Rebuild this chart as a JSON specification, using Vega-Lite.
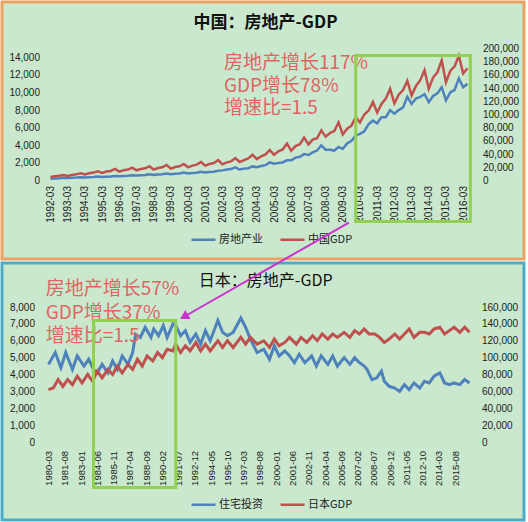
{
  "$schema": "https://vega.github.io/schema/vega-lite/v6.json",
  "padding": 0,
  "background": "white",
  "spacing": 4,
  "bounds": "flush",
  "resolve": {"scale": {"color": "independent"}, "legend": {"color": "independent"}},
  "config": {
    "axis": {"labelFont": "Liberation Sans", "labelFontSize": 10, "labelColor": "#222", "ticks": false, "domain": false, "grid": false, "labelOverlap": false, "labelFlush": false}
  },
  "datasets": {
    "cn": [
      {"d": "1992-03", "re": 200, "gdp": 5300}, {"d": "1992-06", "re": 230, "gdp": 6500}, {"d": "1992-09", "re": 250, "gdp": 7100}, {"d": "1992-12", "re": 300, "gdp": 8300},
      {"d": "1993-03", "re": 280, "gdp": 6900}, {"d": "1993-06", "re": 310, "gdp": 8500}, {"d": "1993-09", "re": 330, "gdp": 9300}, {"d": "1993-12", "re": 380, "gdp": 10900},
      {"d": "1994-03", "re": 330, "gdp": 9000}, {"d": "1994-06", "re": 370, "gdp": 11000}, {"d": "1994-09", "re": 390, "gdp": 12000}, {"d": "1994-12", "re": 450, "gdp": 14000},
      {"d": "1995-03", "re": 400, "gdp": 11500}, {"d": "1995-06", "re": 440, "gdp": 13500}, {"d": "1995-09", "re": 460, "gdp": 14500}, {"d": "1995-12", "re": 520, "gdp": 17500},
      {"d": "1996-03", "re": 470, "gdp": 13500}, {"d": "1996-06", "re": 510, "gdp": 15500}, {"d": "1996-09", "re": 530, "gdp": 16500}, {"d": "1996-12", "re": 600, "gdp": 19500},
      {"d": "1997-03", "re": 560, "gdp": 15500}, {"d": "1997-06", "re": 600, "gdp": 17500}, {"d": "1997-09", "re": 620, "gdp": 18500}, {"d": "1997-12", "re": 700, "gdp": 21500},
      {"d": "1998-03", "re": 640, "gdp": 16500}, {"d": "1998-06", "re": 690, "gdp": 19000}, {"d": "1998-09", "re": 710, "gdp": 20000}, {"d": "1998-12", "re": 800, "gdp": 23500},
      {"d": "1999-03", "re": 720, "gdp": 18000}, {"d": "1999-06", "re": 770, "gdp": 20500}, {"d": "1999-09", "re": 790, "gdp": 21500}, {"d": "1999-12", "re": 900, "gdp": 25000},
      {"d": "2000-03", "re": 800, "gdp": 20000}, {"d": "2000-06", "re": 860, "gdp": 22500}, {"d": "2000-09", "re": 880, "gdp": 24000}, {"d": "2000-12", "re": 1000, "gdp": 28000},
      {"d": "2001-03", "re": 900, "gdp": 22500}, {"d": "2001-06", "re": 960, "gdp": 25000}, {"d": "2001-09", "re": 990, "gdp": 26500}, {"d": "2001-12", "re": 1120, "gdp": 31000},
      {"d": "2002-03", "re": 1150, "gdp": 24500}, {"d": "2002-06", "re": 1250, "gdp": 27500}, {"d": "2002-09", "re": 1300, "gdp": 29000}, {"d": "2002-12", "re": 1500, "gdp": 34000},
      {"d": "2003-03", "re": 1250, "gdp": 28000}, {"d": "2003-06", "re": 1350, "gdp": 31000}, {"d": "2003-09", "re": 1400, "gdp": 33500}, {"d": "2003-12", "re": 1600, "gdp": 39000},
      {"d": "2004-03", "re": 1500, "gdp": 32500}, {"d": "2004-06", "re": 1650, "gdp": 36500}, {"d": "2004-09", "re": 1750, "gdp": 39500}, {"d": "2004-12", "re": 2050, "gdp": 46000},
      {"d": "2005-03", "re": 1900, "gdp": 39100}, {"d": "2005-06", "re": 2000, "gdp": 44300}, {"d": "2005-09", "re": 2050, "gdp": 47000}, {"d": "2005-12", "re": 2300, "gdp": 56000},
      {"d": "2006-03", "re": 2300, "gdp": 45300}, {"d": "2006-06", "re": 2600, "gdp": 52100}, {"d": "2006-09", "re": 2700, "gdp": 54900}, {"d": "2006-12", "re": 3000, "gdp": 65000},
      {"d": "2007-03", "re": 2900, "gdp": 54800}, {"d": "2007-06", "re": 3200, "gdp": 62000}, {"d": "2007-09", "re": 3400, "gdp": 64000}, {"d": "2007-12", "re": 4000, "gdp": 76000},
      {"d": "2008-03", "re": 3500, "gdp": 66300}, {"d": "2008-06", "re": 3500, "gdp": 72000}, {"d": "2008-09", "re": 3400, "gdp": 75000}, {"d": "2008-12", "re": 3800, "gdp": 88000},
      {"d": "2009-03", "re": 3600, "gdp": 69800}, {"d": "2009-06", "re": 4200, "gdp": 78400}, {"d": "2009-09", "re": 4500, "gdp": 83100}, {"d": "2009-12", "re": 5100, "gdp": 96000},
      {"d": "2010-03", "re": 5300, "gdp": 88000}, {"d": "2010-06", "re": 5600, "gdp": 100000}, {"d": "2010-09", "re": 6400, "gdp": 106000}, {"d": "2010-12", "re": 6800, "gdp": 119000},
      {"d": "2011-03", "re": 6500, "gdp": 103000}, {"d": "2011-06", "re": 7200, "gdp": 116000}, {"d": "2011-09", "re": 7200, "gdp": 124000}, {"d": "2011-12", "re": 8000, "gdp": 139000},
      {"d": "2012-03", "re": 7600, "gdp": 117000}, {"d": "2012-06", "re": 8000, "gdp": 130000}, {"d": "2012-09", "re": 8300, "gdp": 137000}, {"d": "2012-12", "re": 9500, "gdp": 151000},
      {"d": "2013-03", "re": 8700, "gdp": 129000}, {"d": "2013-06", "re": 9300, "gdp": 143000}, {"d": "2013-09", "re": 9500, "gdp": 152000}, {"d": "2013-12", "re": 9800, "gdp": 167000},
      {"d": "2014-03", "re": 8900, "gdp": 139000}, {"d": "2014-06", "re": 9600, "gdp": 156000}, {"d": "2014-09", "re": 9900, "gdp": 164000}, {"d": "2014-12", "re": 10600, "gdp": 182000},
      {"d": "2015-03", "re": 9100, "gdp": 149000}, {"d": "2015-06", "re": 10000, "gdp": 166000}, {"d": "2015-09", "re": 10300, "gdp": 173000}, {"d": "2015-12", "re": 11600, "gdp": 189000},
      {"d": "2016-03", "re": 10600, "gdp": 162000}, {"d": "2016-06", "re": 11000, "gdp": 170000}
    ],
    "jpInv": [
      {"d": "1980-03", "v": 4600}, {"d": "1980-10", "v": 5300}, {"d": "1981-04", "v": 4400}, {"d": "1981-09", "v": 5300}, {"d": "1982-04", "v": 4300}, {"d": "1982-09", "v": 5100},
      {"d": "1983-04", "v": 4500}, {"d": "1983-09", "v": 4900}, {"d": "1984-02", "v": 4300}, {"d": "1984-06", "v": 4100}, {"d": "1984-11", "v": 4600}, {"d": "1985-05", "v": 4100},
      {"d": "1985-10", "v": 4800}, {"d": "1986-03", "v": 4300}, {"d": "1986-08", "v": 5100}, {"d": "1987-02", "v": 4600}, {"d": "1987-07", "v": 5300}, {"d": "1987-10", "v": 6400},
      {"d": "1988-03", "v": 6200}, {"d": "1988-08", "v": 6800}, {"d": "1989-02", "v": 6200}, {"d": "1989-05", "v": 6700}, {"d": "1989-10", "v": 6300}, {"d": "1990-03", "v": 6900},
      {"d": "1990-07", "v": 6200}, {"d": "1991-01", "v": 7000}, {"d": "1991-04", "v": 6900}, {"d": "1991-09", "v": 6300}, {"d": "1992-02", "v": 6600}, {"d": "1992-07", "v": 5900},
      {"d": "1993-01", "v": 6400}, {"d": "1993-06", "v": 5800}, {"d": "1993-11", "v": 6600}, {"d": "1994-04", "v": 6000}, {"d": "1994-12", "v": 7200}, {"d": "1995-05", "v": 6500},
      {"d": "1995-10", "v": 6300}, {"d": "1996-04", "v": 6500}, {"d": "1996-12", "v": 7350}, {"d": "1997-05", "v": 6800}, {"d": "1997-10", "v": 6100}, {"d": "1998-05", "v": 5300},
      {"d": "1998-12", "v": 5500}, {"d": "1999-06", "v": 4900}, {"d": "1999-11", "v": 5700}, {"d": "2000-04", "v": 5100}, {"d": "2000-10", "v": 5400}, {"d": "2001-03", "v": 5100},
      {"d": "2001-08", "v": 4700}, {"d": "2002-01", "v": 5200}, {"d": "2002-07", "v": 4700}, {"d": "2003-02", "v": 5100}, {"d": "2003-07", "v": 4500}, {"d": "2003-12", "v": 5100},
      {"d": "2004-07", "v": 4600}, {"d": "2004-12", "v": 5100}, {"d": "2005-05", "v": 4500}, {"d": "2005-12", "v": 5000}, {"d": "2006-06", "v": 4600}, {"d": "2006-11", "v": 5000},
      {"d": "2007-04", "v": 4700}, {"d": "2007-09", "v": 4500}, {"d": "2007-12", "v": 4300}, {"d": "2008-05", "v": 3700}, {"d": "2008-10", "v": 3800}, {"d": "2009-03", "v": 4200},
      {"d": "2009-06", "v": 3600}, {"d": "2009-11", "v": 3300}, {"d": "2010-05", "v": 3200}, {"d": "2010-10", "v": 3000}, {"d": "2011-03", "v": 3400}, {"d": "2011-08", "v": 3100},
      {"d": "2012-01", "v": 3500}, {"d": "2012-07", "v": 3200}, {"d": "2012-12", "v": 3600}, {"d": "2013-05", "v": 3500}, {"d": "2013-10", "v": 3900}, {"d": "2014-04", "v": 4100},
      {"d": "2014-09", "v": 3500}, {"d": "2015-02", "v": 3400}, {"d": "2015-07", "v": 3500}, {"d": "2016-01", "v": 3400}, {"d": "2016-06", "v": 3700}, {"d": "2016-11", "v": 3500}
    ],
    "jpGdp": [
      {"d": "1980-03", "v": 62000}, {"d": "1980-08", "v": 64000}, {"d": "1981-01", "v": 74000}, {"d": "1981-06", "v": 66000}, {"d": "1981-11", "v": 74000}, {"d": "1982-04", "v": 68000},
      {"d": "1982-09", "v": 78000}, {"d": "1983-02", "v": 70000}, {"d": "1983-08", "v": 80000}, {"d": "1984-01", "v": 72000}, {"d": "1984-06", "v": 84000}, {"d": "1984-11", "v": 76000},
      {"d": "1985-05", "v": 86000}, {"d": "1985-10", "v": 80000}, {"d": "1986-03", "v": 90000}, {"d": "1986-08", "v": 82000}, {"d": "1987-02", "v": 92000}, {"d": "1987-07", "v": 86000},
      {"d": "1987-12", "v": 98000}, {"d": "1988-05", "v": 90000}, {"d": "1988-10", "v": 102000}, {"d": "1989-04", "v": 96000}, {"d": "1989-09", "v": 106000}, {"d": "1990-02", "v": 100000},
      {"d": "1990-07", "v": 110000}, {"d": "1991-01", "v": 108000}, {"d": "1991-04", "v": 116000}, {"d": "1991-09", "v": 106000}, {"d": "1992-02", "v": 114000}, {"d": "1992-07", "v": 108000},
      {"d": "1993-01", "v": 118000}, {"d": "1993-06", "v": 108000}, {"d": "1993-11", "v": 116000}, {"d": "1994-04", "v": 108000}, {"d": "1994-12", "v": 120000}, {"d": "1995-05", "v": 112000},
      {"d": "1995-10", "v": 120000}, {"d": "1996-04", "v": 112000}, {"d": "1996-12", "v": 124000}, {"d": "1997-05", "v": 116000}, {"d": "1997-10", "v": 124000}, {"d": "1998-05", "v": 116000},
      {"d": "1998-12", "v": 120000}, {"d": "1999-06", "v": 112000}, {"d": "1999-11", "v": 122000}, {"d": "2000-04", "v": 114000}, {"d": "2000-10", "v": 118000}, {"d": "2001-03", "v": 124000},
      {"d": "2001-10", "v": 116000}, {"d": "2002-03", "v": 124000}, {"d": "2002-09", "v": 118000}, {"d": "2003-03", "v": 126000}, {"d": "2003-08", "v": 120000}, {"d": "2004-01", "v": 128000},
      {"d": "2004-07", "v": 122000}, {"d": "2004-12", "v": 128000}, {"d": "2005-05", "v": 124000}, {"d": "2005-12", "v": 130000}, {"d": "2006-06", "v": 124000}, {"d": "2006-11", "v": 132000},
      {"d": "2007-04", "v": 128000}, {"d": "2007-09", "v": 134000}, {"d": "2008-02", "v": 128000}, {"d": "2008-08", "v": 128000}, {"d": "2009-01", "v": 124000}, {"d": "2009-06", "v": 118000},
      {"d": "2009-11", "v": 122000}, {"d": "2010-05", "v": 128000}, {"d": "2010-10", "v": 122000}, {"d": "2011-03", "v": 128000}, {"d": "2011-08", "v": 134000}, {"d": "2012-01", "v": 124000},
      {"d": "2012-07", "v": 130000}, {"d": "2012-12", "v": 130000}, {"d": "2013-05", "v": 128000}, {"d": "2013-10", "v": 134000}, {"d": "2014-04", "v": 136000}, {"d": "2014-09", "v": 128000},
      {"d": "2015-02", "v": 132000}, {"d": "2015-07", "v": 136000}, {"d": "2016-01", "v": 130000}, {"d": "2016-06", "v": 136000}, {"d": "2016-11", "v": 130000}
    ]
  },
  "vconcat": [
    {
      "width": 522,
      "height": 257,
      "view": {"fill": "#c9e8cd", "stroke": "#eda15f", "strokeWidth": 3},
      "layer": [
        {
          "data": {"name": "cn"},
          "mark": {"type": "line", "strokeWidth": 2.5},
          "encoding": {
            "x": {"field": "d", "type": "temporal", "scale": {"type": "utc", "nice": false, "domain": [{"year": 1992, "month": 3, "date": 1, "utc": true}, {"year": 2016, "month": 6, "date": 1, "utc": true}], "range": [48.5, 465.5]},
              "axis": {"title": null, "format": "%Y-%m", "labelAngle": -90, "offset": -78.5, "labelPadding": 5, "labelOverlap": false, "labelFlush": false,
                "values": [{"year": 1992, "month": 3, "date": 1, "utc": true}, {"year": 1993, "month": 3, "date": 1, "utc": true}, {"year": 1994, "month": 3, "date": 1, "utc": true}, {"year": 1995, "month": 3, "date": 1, "utc": true}, {"year": 1996, "month": 3, "date": 1, "utc": true}, {"year": 1997, "month": 3, "date": 1, "utc": true}, {"year": 1998, "month": 3, "date": 1, "utc": true}, {"year": 1999, "month": 3, "date": 1, "utc": true}, {"year": 2000, "month": 3, "date": 1, "utc": true}, {"year": 2001, "month": 3, "date": 1, "utc": true}, {"year": 2002, "month": 3, "date": 1, "utc": true}, {"year": 2003, "month": 3, "date": 1, "utc": true}, {"year": 2004, "month": 3, "date": 1, "utc": true}, {"year": 2005, "month": 3, "date": 1, "utc": true}, {"year": 2006, "month": 3, "date": 1, "utc": true}, {"year": 2007, "month": 3, "date": 1, "utc": true}, {"year": 2008, "month": 3, "date": 1, "utc": true}, {"year": 2009, "month": 3, "date": 1, "utc": true}, {"year": 2010, "month": 3, "date": 1, "utc": true}, {"year": 2011, "month": 3, "date": 1, "utc": true}, {"year": 2012, "month": 3, "date": 1, "utc": true}, {"year": 2013, "month": 3, "date": 1, "utc": true}, {"year": 2014, "month": 3, "date": 1, "utc": true}, {"year": 2015, "month": 3, "date": 1, "utc": true}, {"year": 2016, "month": 3, "date": 1, "utc": true}]}},
            "y": {"field": "re", "type": "quantitative", "scale": {"domain": [0, 15000], "range": [178.5, 46.5], "nice": false, "zero": false},
              "axis": {"title": null, "orient": "left", "offset": -41.5, "labelPadding": 4, "format": ",d", "labelOverlap": false, "values": [0, 2000, 4000, 6000, 8000, 10000, 12000, 14000]}},
            "color": {"datum": "房地产业", "type": "nominal", "scale": {"domain": ["房地产业", "中国GDP"], "range": ["#4f81bd", "#c0504d"]},
              "legend": {"orient": "none", "legendX": 188, "legendY": 224, "direction": "horizontal", "title": null, "symbolType": "stroke", "symbolSize": 576, "symbolStrokeWidth": 2.5, "labelFont": "Noto Sans CJK SC", "labelFontSize": 11, "labelColor": "#222", "labelOffset": 2, "columnPadding": 12, "padding": 0}}
          }
        },
        {
          "data": {"name": "cn"},
          "mark": {"type": "line", "strokeWidth": 2.5},
          "encoding": {
            "x": {"field": "d", "type": "temporal", "scale": {"type": "utc", "nice": false, "domain": [{"year": 1992, "month": 3, "date": 1, "utc": true}, {"year": 2016, "month": 6, "date": 1, "utc": true}], "range": [48.5, 465.5]}, "axis": null},
            "y": {"field": "gdp", "type": "quantitative", "scale": {"domain": [0, 200000], "range": [178.5, 46.5], "nice": false, "zero": false},
              "axis": {"title": null, "orient": "right", "offset": -45.5, "labelPadding": 4, "format": ",d", "labelOverlap": false, "values": [0, 20000, 40000, 60000, 80000, 100000, 120000, 140000, 160000, 180000, 200000]}},
            "color": {"datum": "中国GDP", "type": "nominal"}
          }
        },
        {
          "data": {"values": [
            {"d": "2002-04", "v": 13409, "t": "房地产增长117%"},
            {"d": "2002-04", "v": 10682, "t": "GDP增长78%"},
            {"d": "2002-04", "v": 8182, "t": "增速比=1.5"}
          ]},
          "mark": {"type": "text", "align": "left", "baseline": "middle", "font": "Noto Sans CJK SC", "fontSize": 19, "color": "#e06464"},
          "encoding": {
            "x": {"field": "d", "type": "temporal", "scale": {"type": "utc", "nice": false, "domain": [{"year": 1992, "month": 3, "date": 1, "utc": true}, {"year": 2016, "month": 6, "date": 1, "utc": true}], "range": [48.5, 465.5]}, "axis": null},
            "y": {"field": "v", "type": "quantitative", "scale": {"domain": [0, 15000], "range": [178.5, 46.5], "nice": false, "zero": false}, "axis": null},
            "text": {"field": "t"}
          }
        },
        {
          "data": {"values": [{"d": "2004-09", "v": 17893, "t": "中国：房地产-GDP"}]},
          "mark": {"type": "text", "align": "center", "baseline": "middle", "font": "Noto Sans CJK SC", "fontSize": 17, "fontWeight": "bold", "color": "#111"},
          "encoding": {
            "x": {"field": "d", "type": "temporal", "scale": {"type": "utc", "nice": false, "domain": [{"year": 1992, "month": 3, "date": 1, "utc": true}, {"year": 2016, "month": 6, "date": 1, "utc": true}], "range": [48.5, 465.5]}, "axis": null},
            "y": {"field": "v", "type": "quantitative", "scale": {"domain": [0, 15000], "range": [178.5, 46.5], "nice": false, "zero": false}, "axis": null},
            "text": {"field": "t"}
          }
        },
        {
          "data": {"values": [{"d1": "2009-12", "d2": "2016-08", "v1": 14205, "v2": -4659}]},
          "mark": {"type": "rect", "fillOpacity": 0, "stroke": "#92d050", "strokeWidth": 3},
          "encoding": {
            "x": {"field": "d1", "type": "temporal", "scale": {"type": "utc", "nice": false, "domain": [{"year": 1992, "month": 3, "date": 1, "utc": true}, {"year": 2016, "month": 6, "date": 1, "utc": true}], "range": [48.5, 465.5]}, "axis": null},
            "x2": {"field": "d2"},
            "y": {"field": "v1", "type": "quantitative", "scale": {"domain": [0, 15000], "range": [178.5, 46.5], "nice": false, "zero": false}, "axis": null},
            "y2": {"field": "v2"}
          }
        }
      ],
      "resolve": {"scale": {"x": "independent", "y": "independent"}}
    },
    {
      "width": 522,
      "height": 257,
      "view": {"fill": "#c9e8cd", "stroke": "#4bacc6", "strokeWidth": 3},
      "layer": [
        {
          "data": {"name": "jpInv"},
          "mark": {"type": "line", "strokeWidth": 3},
          "encoding": {
            "x": {"field": "d", "type": "temporal", "scale": {"type": "utc", "nice": false, "domain": [{"year": 1980, "month": 3, "date": 1, "utc": true}, {"year": 2016, "month": 11, "date": 1, "utc": true}], "range": [46.5, 467.5]},
              "axis": {"title": null, "format": "%Y-%m", "labelAngle": -90, "offset": -78, "labelPadding": 8.5, "labelFontSize": 9.5, "labelOverlap": false, "labelFlush": false,
                "values": [{"year": 1980, "month": 3, "date": 1, "utc": true}, {"year": 1981, "month": 8, "date": 1, "utc": true}, {"year": 1983, "month": 1, "date": 1, "utc": true}, {"year": 1984, "month": 6, "date": 1, "utc": true}, {"year": 1985, "month": 11, "date": 1, "utc": true}, {"year": 1987, "month": 4, "date": 1, "utc": true}, {"year": 1988, "month": 9, "date": 1, "utc": true}, {"year": 1990, "month": 2, "date": 1, "utc": true}, {"year": 1991, "month": 7, "date": 1, "utc": true}, {"year": 1992, "month": 12, "date": 1, "utc": true}, {"year": 1994, "month": 5, "date": 1, "utc": true}, {"year": 1995, "month": 10, "date": 1, "utc": true}, {"year": 1997, "month": 3, "date": 1, "utc": true}, {"year": 1998, "month": 8, "date": 1, "utc": true}, {"year": 2000, "month": 1, "date": 1, "utc": true}, {"year": 2001, "month": 6, "date": 1, "utc": true}, {"year": 2002, "month": 11, "date": 1, "utc": true}, {"year": 2004, "month": 4, "date": 1, "utc": true}, {"year": 2005, "month": 9, "date": 1, "utc": true}, {"year": 2007, "month": 2, "date": 1, "utc": true}, {"year": 2008, "month": 7, "date": 1, "utc": true}, {"year": 2009, "month": 12, "date": 1, "utc": true}, {"year": 2011, "month": 5, "date": 1, "utc": true}, {"year": 2012, "month": 10, "date": 1, "utc": true}, {"year": 2014, "month": 3, "date": 1, "utc": true}, {"year": 2015, "month": 8, "date": 1, "utc": true}]}},
            "y": {"field": "v", "type": "quantitative", "scale": {"domain": [0, 8000], "range": [179, 44], "nice": false, "zero": false},
              "axis": {"title": null, "orient": "left", "offset": -36.5, "labelPadding": 4, "format": ",d", "labelOverlap": false, "values": [0, 1000, 2000, 3000, 4000, 5000, 6000, 7000, 8000]}},
            "color": {"datum": "住宅投资", "type": "nominal", "scale": {"domain": ["住宅投资", "日本GDP"], "range": ["#4f81bd", "#c0504d"]},
              "legend": {"orient": "none", "legendX": 188, "legendY": 228, "direction": "horizontal", "title": null, "symbolType": "stroke", "symbolSize": 576, "symbolStrokeWidth": 2.5, "labelFont": "Noto Sans CJK SC", "labelFontSize": 11, "labelColor": "#222", "labelOffset": 2, "columnPadding": 12, "padding": 0}}
          }
        },
        {
          "data": {"name": "jpGdp"},
          "mark": {"type": "line", "strokeWidth": 3},
          "encoding": {
            "x": {"field": "d", "type": "temporal", "scale": {"type": "utc", "nice": false, "domain": [{"year": 1980, "month": 3, "date": 1, "utc": true}, {"year": 2016, "month": 11, "date": 1, "utc": true}], "range": [46.5, 467.5]}, "axis": null},
            "y": {"field": "v", "type": "quantitative", "scale": {"domain": [0, 160000], "range": [179, 44], "nice": false, "zero": false},
              "axis": {"title": null, "orient": "right", "offset": -46.5, "labelPadding": 4, "format": ",d", "labelOverlap": false, "values": [0, 20000, 40000, 60000, 80000, 100000, 120000, 140000, 160000]}},
            "color": {"datum": "日本GDP", "type": "nominal"}
          }
        },
        {
          "data": {"values": [
            {"d": "1979-12", "v": 9096, "t": "房地产增长57%"},
            {"d": "1979-12", "v": 7674, "t": "GDP增长37%"},
            {"d": "1979-12", "v": 6311, "t": "增速比=1.5"}
          ]},
          "mark": {"type": "text", "align": "left", "baseline": "middle", "font": "Noto Sans CJK SC", "fontSize": 19, "color": "#e06464"},
          "encoding": {
            "x": {"field": "d", "type": "temporal", "scale": {"type": "utc", "nice": false, "domain": [{"year": 1980, "month": 3, "date": 1, "utc": true}, {"year": 2016, "month": 11, "date": 1, "utc": true}], "range": [46.5, 467.5]}, "axis": null},
            "y": {"field": "v", "type": "quantitative", "scale": {"domain": [0, 8000], "range": [179, 44], "nice": false, "zero": false}, "axis": null},
            "text": {"field": "t"}
          }
        },
        {
          "data": {"values": [{"d": "1999-02", "v": 9541, "t": "日本：房地产-GDP"}]},
          "mark": {"type": "text", "align": "center", "baseline": "middle", "font": "Noto Sans CJK SC", "fontSize": 16, "color": "#111"},
          "encoding": {
            "x": {"field": "d", "type": "temporal", "scale": {"type": "utc", "nice": false, "domain": [{"year": 1980, "month": 3, "date": 1, "utc": true}, {"year": 2016, "month": 11, "date": 1, "utc": true}], "range": [46.5, 467.5]}, "axis": null},
            "y": {"field": "v", "type": "quantitative", "scale": {"domain": [0, 8000], "range": [179, 44], "nice": false, "zero": false}, "axis": null},
            "text": {"field": "t"}
          }
        },
        {
          "data": {"values": [{"d1": "1984-02", "d2": "1991-04", "v1": 7200, "v2": -2696}]},
          "mark": {"type": "rect", "fillOpacity": 0, "stroke": "#92d050", "strokeWidth": 3},
          "encoding": {
            "x": {"field": "d1", "type": "temporal", "scale": {"type": "utc", "nice": false, "domain": [{"year": 1980, "month": 3, "date": 1, "utc": true}, {"year": 2016, "month": 11, "date": 1, "utc": true}], "range": [46.5, 467.5]}, "axis": null},
            "x2": {"field": "d2"},
            "y": {"field": "v1", "type": "quantitative", "scale": {"domain": [0, 8000], "range": [179, 44], "nice": false, "zero": false}, "axis": null},
            "y2": {"field": "v2"}
          }
        },
        {
          "data": {"values": [{"d1": "2006-05", "d2": "1992-02", "v1": 13007, "v2": 7467}]},
          "mark": {"type": "rule", "color": "#cc33cc", "strokeWidth": 2},
          "encoding": {
            "x": {"field": "d1", "type": "temporal", "scale": {"type": "utc", "nice": false, "domain": [{"year": 1980, "month": 3, "date": 1, "utc": true}, {"year": 2016, "month": 11, "date": 1, "utc": true}], "range": [46.5, 467.5]}, "axis": null},
            "x2": {"field": "d2"},
            "y": {"field": "v1", "type": "quantitative", "scale": {"domain": [0, 8000], "range": [179, 44], "nice": false, "zero": false}, "axis": null},
            "y2": {"field": "v2"}
          }
        },
        {
          "data": {"values": [{"d": "1992-02", "v": 7467}]},
          "mark": {"type": "point", "shape": "triangle", "angle": 240, "filled": true, "size": 110, "color": "#cc33cc", "opacity": 1},
          "encoding": {
            "x": {"field": "d", "type": "temporal", "scale": {"type": "utc", "nice": false, "domain": [{"year": 1980, "month": 3, "date": 1, "utc": true}, {"year": 2016, "month": 11, "date": 1, "utc": true}], "range": [46.5, 467.5]}, "axis": null},
            "y": {"field": "v", "type": "quantitative", "scale": {"domain": [0, 8000], "range": [179, 44], "nice": false, "zero": false}, "axis": null}
          }
        }
      ],
      "resolve": {"scale": {"x": "independent", "y": "independent"}}
    }
  ]
}
